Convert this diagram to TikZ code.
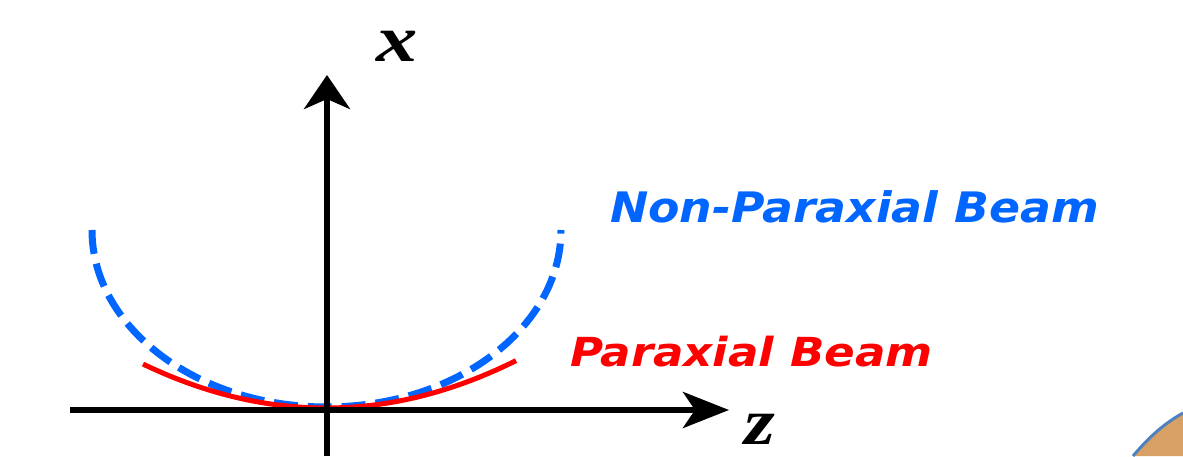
\documentclass[tikz,border=0pt]{standalone}
\usepackage{fontspec}
\usetikzlibrary{arrows.meta}
\newfontfamily\labserif{Liberation Serif}
\newfontfamily\labsans{DejaVu Sans}
\definecolor{beamblue}{RGB}{0,102,255}
\definecolor{beamred}{RGB}{255,0,0}
\definecolor{cornerfill}{RGB}{217,160,102}
\definecolor{cornerline}{RGB}{79,129,189}
\tikzset{
  axisline/.style={line width=6pt, black},
  axislabel/.style={inner sep=0pt, anchor=base, font=\labserif\bfseries\itshape\fontsize{66}{66}\selectfont},
  beamlabel/.style={inner sep=0pt, anchor=base west},
  nonparaxial/.style={beamblue, line width=7pt, dash pattern=on 24pt off 10pt},
  paraxial/.style={beamred, line width=5pt},
}
\begin{document}
\begin{tikzpicture}[x=1pt,y=1pt]
\useasboundingbox (0,0) rectangle (1183,456);
\fill[white] (0,0) rectangle (1183,456);
% corner decoration
\fill[cornerfill] (1133,0) .. controls (1150,20) and (1165,33) .. (1183,43) -- (1183,0) -- cycle;
\draw[cornerline, line width=3pt] (1133,0) .. controls (1150,20) and (1165,33) .. (1183,43);
% coordinates
\coordinate (xbot) at (327,0);
\coordinate (xtip) at (327,381);
\coordinate (zleft) at (70,46);
\coordinate (ztip) at (729,46);
% curves
\draw[nonparaxial] (92,226) arc[start angle=180, end angle=360, x radius=234.5, y radius=177];
\draw[paraxial] plot[domain=143:516, samples=80] (\x, {48+0.00131*(\x-326)*(\x-326)});
% axes
\draw[axisline, -{Stealth[length=34pt, width=46pt, inset=10pt]}] (xbot) -- (xtip);
\draw[axisline, -{Stealth[length=46pt, width=36pt, inset=12pt]}] (zleft) -- (ztip);
% labels
\node[axislabel] (xlab) at (397,394) {\scalebox{1.25}[1]{x}};
\node[axislabel] (zlab) at (760,12) {\scalebox{1.2}[1]{z}};
\node[beamlabel, text=beamblue, font=\labsans\bfseries\itshape\fontsize{42}{42}\selectfont] (npb) at (610,234) {\scalebox{1.09}[1]{Non-Paraxial Beam}};
\node[beamlabel, text=beamred, font=\labsans\bfseries\itshape\fontsize{40}{40}\selectfont] (pb) at (570,90) {\scalebox{1.13}[1]{Paraxial Beam}};
\end{tikzpicture}
\end{document}
